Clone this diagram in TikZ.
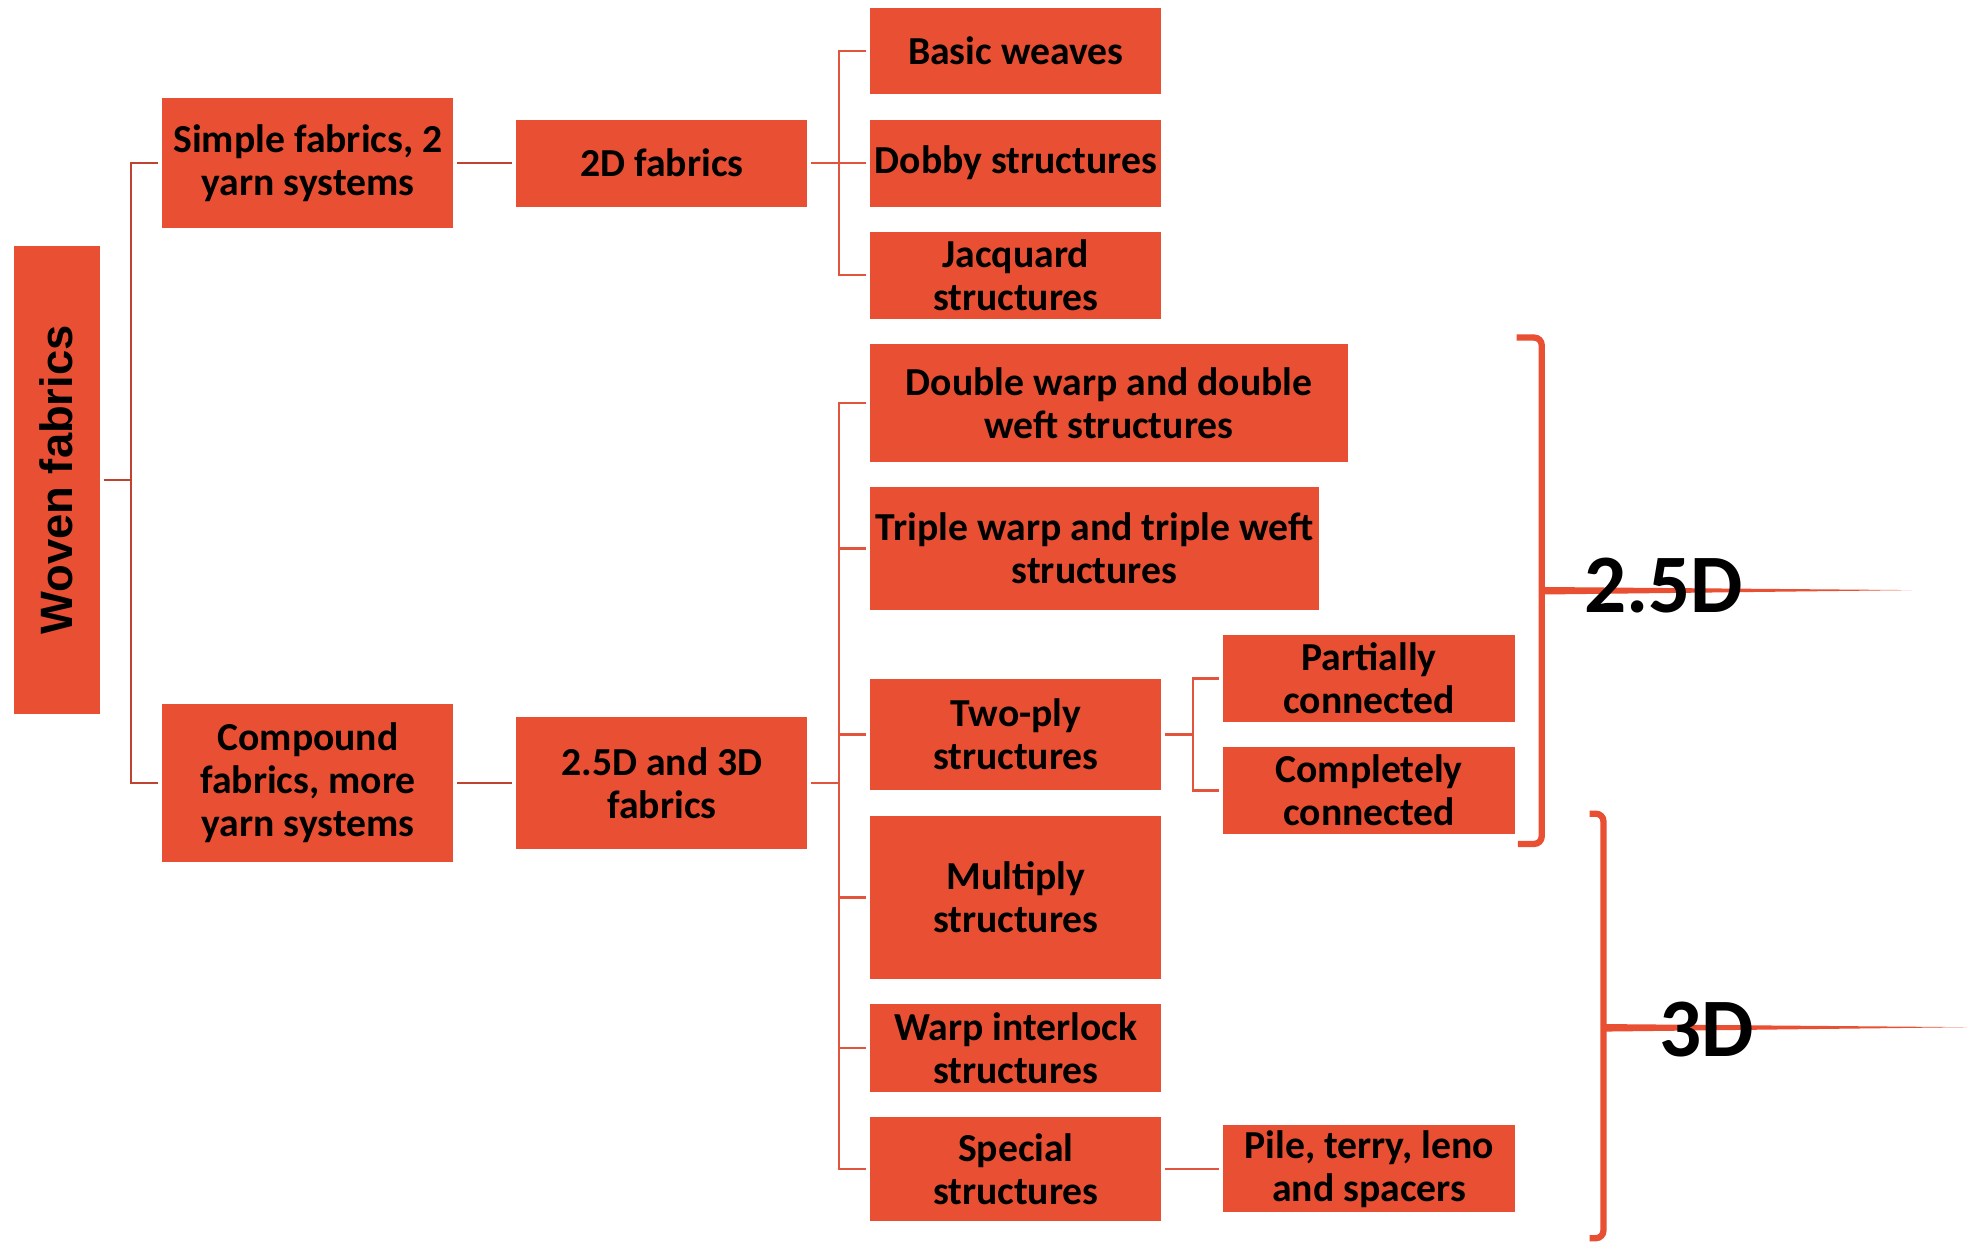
\documentclass[tikz,border=0pt]{standalone}
\usepackage{fontspec}
\usetikzlibrary{calc}
\setmainfont{Carlito}
\newfontfamily\arialfont{Liberation Sans}
\definecolor{boxred}{HTML}{E84F33}
\definecolor{linedark}{HTML}{BE4330}
\definecolor{linelight}{HTML}{E0553B}
\begin{document}
\begin{tikzpicture}[x=1pt,y=-1pt,
  box/.style={fill=boxred, draw=none, inner sep=0pt, align=center,
    font=\bfseries\fontsize{31.5}{34}\selectfont},
  conn/.style={draw=linedark, line width=2pt},
  connl/.style={draw=linelight, line width=2pt},
  brace/.style={draw=boxred, line width=5pt, rounded corners=6pt},
  biglabel/.style={font=\bfseries\fontsize{66}{70}\selectfont, text=black, inner sep=0pt}]
\useasboundingbox (0,0) rectangle (1568,986);

% root
\node[box, minimum width=68pt, minimum height=372pt] (woven) at (45,381)
  {\rotatebox{90}{\arialfont\bfseries\fontsize{36}{40}\selectfont Woven fabrics}};

% second level
\node[box, minimum width=231pt, minimum height=103pt] (simple) at (244.5,129.5)
  {Simple fabrics, 2\\yarn systems};
\node[box, minimum width=231pt, minimum height=125pt] (compound) at (244.5,621.5)
  {Compound\\fabrics, more\\yarn systems};

% third level
\node[box, minimum width=231pt, minimum height=69pt] (twod) at (525.5,129.5) {2D fabrics};
\node[box, minimum width=231pt, minimum height=105pt] (threed) at (525.5,621.5)
  {2.5D and 3D\\fabrics};

% 2D structures
\node[box, minimum width=231pt, minimum height=69pt] (basic) at (806.5,40.5) {Basic weaves};
\node[box, minimum width=231pt, minimum height=69pt] (dobby) at (806.5,129.5) {Dobby structures};
\node[box, minimum width=231pt, minimum height=69pt] (jacq) at (806.5,218.5) {Jacquard\\structures};

% 2.5D / 3D structures
\node[box, minimum width=379pt, minimum height=94pt] (double) at (880.5,320) {Double warp and double\\weft structures};
\node[box, minimum width=356pt, minimum height=97pt] (triple) at (869,435.5) {Triple warp and triple weft\\structures};
\node[box, minimum width=231pt, minimum height=88pt] (twoply) at (806.5,583) {Two-ply\\structures};
\node[box, minimum width=232pt, minimum height=69pt] (partial) at (1087,538.5) {Partially\\connected};
\node[box, minimum width=232pt, minimum height=69pt] (complete) at (1087,627.5) {Completely\\connected};
\node[box, minimum width=231pt, minimum height=129pt] (multi) at (806.5,712.5) {Multiply\\structures};
\node[box, minimum width=231pt, minimum height=70pt] (interlock) at (806.5,832) {Warp interlock\\structures};
\node[box, minimum width=231pt, minimum height=82pt] (special) at (806.5,928) {Special\\structures};
\node[box, minimum width=232pt, minimum height=69pt] (pile) at (1087,928) {Pile, terry, leno\\and spacers};

% bus points
\coordinate (b1) at (104,381);
\coordinate (b2) at (666,129.5);
\coordinate (b3) at (666,621.5);
\coordinate (b4) at (947,583);

% root connectors
\draw[conn, shorten <=3pt] (woven.east) -- (b1);
\draw[conn, shorten >=3pt] (b1) |- (simple.west);
\draw[conn, shorten >=3pt] (b1) |- (compound.west);
\draw[conn, shorten <=3pt, shorten >=3pt] (simple.east) -- (twod.west);
\draw[conn, shorten <=3pt, shorten >=3pt] (compound.east) -- (threed.west);

% 2D branch
\draw[connl, shorten <=3pt] (twod.east) -- (b2);
\foreach \n in {basic,dobby,jacq}
  \draw[connl, shorten >=3pt] (b2) |- (\n.west);

% 2.5D and 3D branch
\draw[connl, shorten <=3pt] (threed.east) -- (b3);
\foreach \n in {double,triple,twoply,multi,interlock,special}
  \draw[connl, shorten >=3pt] (b3) |- (\n.west);

% two-ply branch
\draw[connl, shorten <=3pt] (twoply.east) -- (b4);
\foreach \n in {partial,complete}
  \draw[connl, shorten >=3pt] (b4) |- (\n.west);
\draw[connl, shorten <=3pt, shorten >=3pt] (special.east) -- (pile.west);

% 2.5D bracket
\draw[brace] (1204,268) -- (1224,268) -- (1224,670) -- (1205,670);
\coordinate (t25) at (1224,469);
\fill[boxred] ($(t25)+(0,-3)$) -- (1518,468.5) -- ($(t25)+(0,3)$) -- cycle;
\node[biglabel] (lab25) at (1321,465) {2.5D};

% 3D bracket
\draw[brace] (1262,646) -- (1273,646) -- (1273,983) -- (1262,983);
\coordinate (t3) at (1273,816);
\fill[boxred] ($(t3)+(0,-3)$) -- (1562,815.5) -- ($(t3)+(0,3)$) -- cycle;
\node[biglabel] (lab3) at (1355,817) {3D};
\end{tikzpicture}
\end{document}
